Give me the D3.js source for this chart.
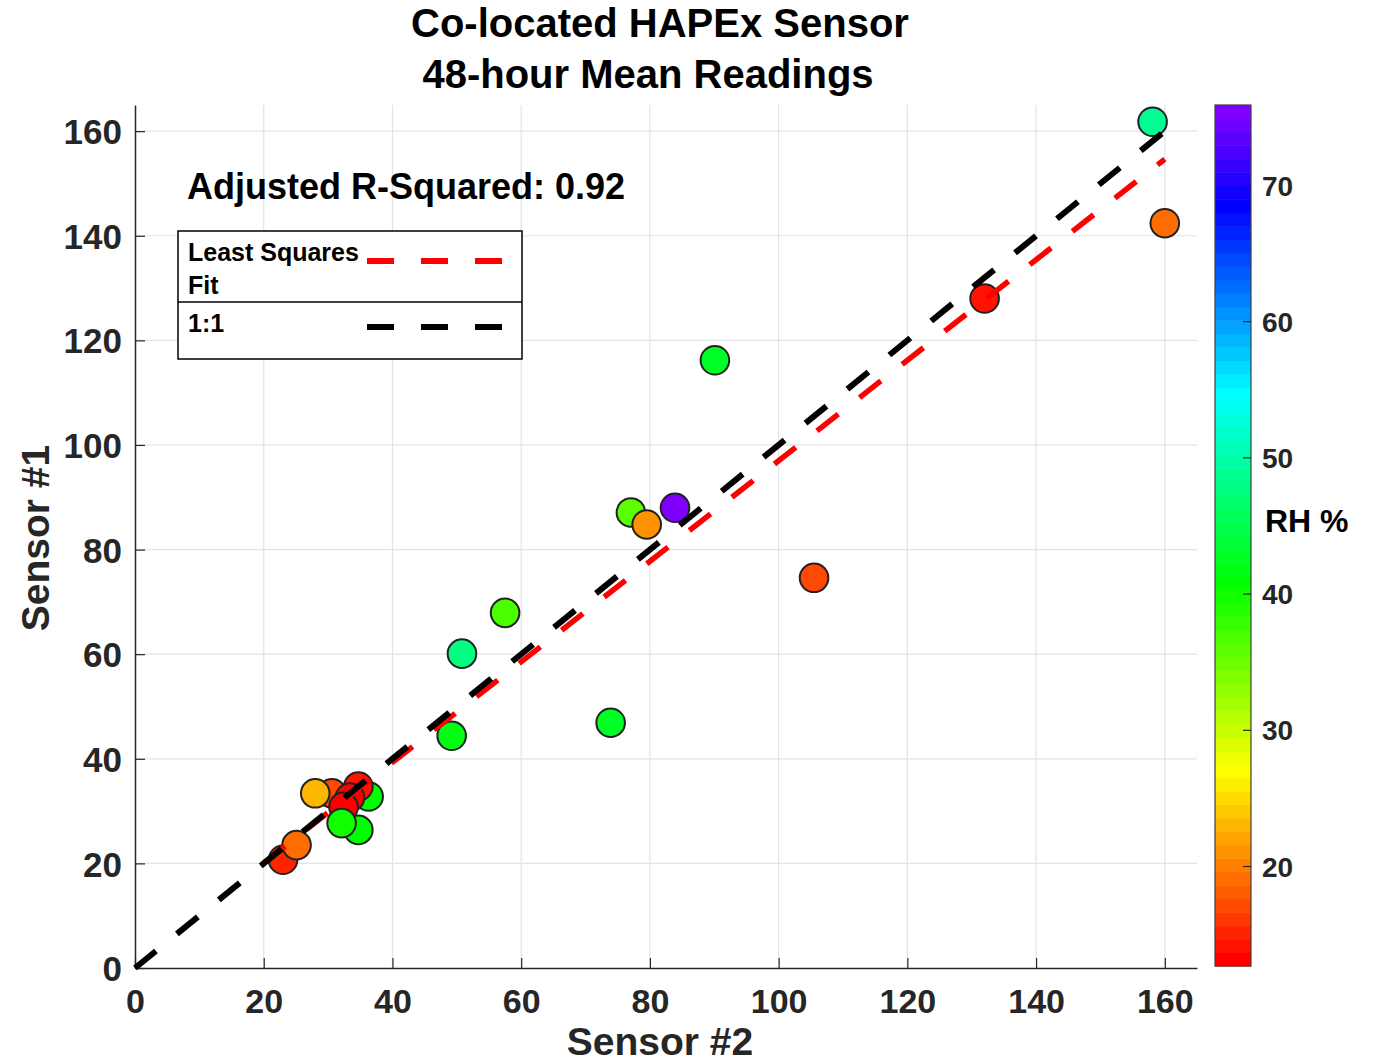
<!DOCTYPE html>
<html><head><meta charset="utf-8">
<script src="https://cdn.jsdelivr.net/npm/d3@7"></script>
<style>
body{margin:0;background:#fff}
text{font-family:"Liberation Sans",Arial,Helvetica,sans-serif;font-weight:bold}
</style>
</head><body>
<svg id="chart" width="1375" height="1064"></svg>
<script>
// ---- data ----
const sensor2 = [36.3, 30.6, 28.0, 34.7, 33.4, 32.4, 34.7, 32.1, 23.0, 25.1,
                 49.2, 50.8, 57.5, 73.9, 77.05, 79.5, 83.9, 90.1, 105.5, 132.0, 158.1, 160.0];
const sensor1 = [32.8, 33.4, 33.4, 34.7, 32.6, 30.8, 26.4, 27.7, 20.7, 23.5,
                 44.4, 60.1, 67.9, 46.9, 87.1, 84.8, 88.0, 116.2, 74.6, 128.0, 161.8, 142.4];
const rh      = [40.5, 17.0, 23.5, 14.0, 13.5, 12.66, 41.0, 40.0, 15.0, 19.5,
                 42.0, 48.0, 37.0, 43.0, 36.0, 21.0, 75.87, 43.0, 17.5, 14.5, 48.5, 19.0];
const xTicks = [0, 20, 40, 60, 80, 100, 120, 140, 160];
const yTicks = [0, 20, 40, 60, 80, 100, 120, 140, 160];
const cbTicks = [20, 30, 40, 50, 60, 70];
const fitX = [20, 160];
const fitSlope = 0.961;
const fitIntercept = 0.88;
const oneX = [0, 160];
const titleLines = ["Co-located HAPEx Sensor", "48-hour Mean Readings"];
const rsqText = "Adjusted R-Squared: 0.92";
const legendLabels = [["Least Squares", "Fit"], ["1:1"]];

// ---- layout ----
const svg = d3.select("#chart");
const L = 135, R = 1197, T = 105, B = 968;
const x = d3.scaleLinear().domain([0, 165]).range([L, R]);
const y = d3.scaleLinear().domain([0, 165]).range([B, T]);
const axisCol = "#262626";
const FF = '"Liberation Sans",Arial,sans-serif';

// colormap: 64 discrete hsv-like colors, red -> violet
const nCol = 64;
const cmap = d3.range(nCol).map(i => d3.hsl(270 * i / (nCol - 1), 1, 0.5).formatHex());
const rhExt = d3.extent(rh);
const cScale = d3.scaleQuantize().domain(rhExt).range(cmap);

// grid
const g = svg.append("g");
g.selectAll(".gx").data(xTicks.filter(d => d > 0)).enter().append("line")
  .attr("x1", d => x(d)).attr("x2", d => x(d)).attr("y1", T).attr("y2", B)
  .attr("stroke", "#e3e3e3").attr("stroke-width", 1.2);
g.selectAll(".gy").data(yTicks.filter(d => d > 0)).enter().append("line")
  .attr("y1", d => y(d)).attr("y2", d => y(d)).attr("x1", L).attr("x2", R)
  .attr("stroke", "#e3e3e3").attr("stroke-width", 1.2);

// axes
const xAxis = d3.axisBottom(x).tickValues(xTicks).tickSizeInner(-10).tickSizeOuter(0).tickPadding(21);
const yAxis = d3.axisLeft(y).tickValues(yTicks).tickSizeInner(-10).tickSizeOuter(0).tickPadding(13);
const gx = svg.append("g").attr("transform", `translate(0,${B})`).call(xAxis);
const gy = svg.append("g").attr("transform", `translate(${L},0)`).call(yAxis);
[gx, gy].forEach(a => {
  a.select(".domain").attr("stroke", axisCol).attr("stroke-width", 1.5);
  a.selectAll(".tick line").attr("stroke", axisCol).attr("stroke-width", 1.2);
  a.selectAll(".tick text").attr("fill", axisCol)
    .style("font-family", FF).style("font-weight", "bold");
});
gx.selectAll(".tick text").style("font-size", "34px").attr("dy", "0.71em");
gy.selectAll(".tick text").style("font-size", "35px").attr("dy", "0.36em");

// points
const idx = d3.range(sensor2.length);
svg.append("g").selectAll("circle").data(idx).enter().append("circle")
  .attr("cx", i => x(sensor2[i])).attr("cy", i => y(sensor1[i])).attr("r", 14.3)
  .attr("fill", i => cScale(rh[i])).attr("stroke", "#222").attr("stroke-width", 2);

// fit line (red) and 1:1 line (black)
svg.append("line")
  .attr("x1", x(fitX[0])).attr("y1", y(fitSlope * fitX[0] + fitIntercept))
  .attr("x2", x(fitX[1])).attr("y2", y(fitSlope * fitX[1] + fitIntercept))
  .attr("stroke", "#ff0000").attr("stroke-width", 5.5).attr("stroke-dasharray", "27,27");
svg.append("line")
  .attr("x1", x(oneX[0])).attr("y1", y(oneX[0]))
  .attr("x2", x(oneX[1])).attr("y2", y(oneX[1]))
  .attr("stroke", "#000").attr("stroke-width", 6).attr("stroke-dasharray", "27,27");

// R-squared text
svg.append("text").attr("x", 187).attr("y", 199).attr("font-size", 36).attr("fill", "#000").text(rsqText);

// legend
const lg = svg.append("g");
lg.append("rect").attr("x", 178).attr("y", 231).attr("width", 344).attr("height", 128)
  .attr("fill", "#fff").attr("stroke", "#000").attr("stroke-width", 1.5);
lg.append("line").attr("x1", 178).attr("x2", 522).attr("y1", 302).attr("y2", 302)
  .attr("stroke", "#000").attr("stroke-width", 1.5);
lg.append("text").attr("x", 188).attr("y", 261).attr("font-size", 25).attr("fill", "#000").text(legendLabels[0][0]);
lg.append("text").attr("x", 188).attr("y", 294).attr("font-size", 25).attr("fill", "#000").text(legendLabels[0][1]);
lg.append("text").attr("x", 188).attr("y", 332).attr("font-size", 25).attr("fill", "#000").text(legendLabels[1][0]);
lg.append("line").attr("x1", 367).attr("x2", 503).attr("y1", 261).attr("y2", 261)
  .attr("stroke", "#ff0000").attr("stroke-width", 6).attr("stroke-dasharray", "27,27");
lg.append("line").attr("x1", 367).attr("x2", 503).attr("y1", 327).attr("y2", 327)
  .attr("stroke", "#000").attr("stroke-width", 6).attr("stroke-dasharray", "27,27");

// title
svg.append("text").attr("x", 660).attr("y", 37).attr("text-anchor", "middle").attr("font-size", 40)
  .attr("fill", "#000").text(titleLines[0]);
svg.append("text").attr("x", 648).attr("y", 88).attr("text-anchor", "middle").attr("font-size", 40)
  .attr("fill", "#000").text(titleLines[1]);

// axis labels
svg.append("text").attr("x", 660).attr("y", 1055).attr("text-anchor", "middle").attr("font-size", 39)
  .attr("fill", axisCol).text("Sensor #2");
svg.append("text").attr("transform", "translate(49,538) rotate(-90)").attr("text-anchor", "middle")
  .attr("font-size", 39).attr("fill", axisCol).text("Sensor #1");

// colorbar
const cbL = 1215, cbW = 36, cbT = 105, cbB = 966;
const cb = d3.scaleLinear().domain(rhExt).range([cbB, cbT]);
const step = (rhExt[1] - rhExt[0]) / nCol;
svg.append("g").selectAll("rect").data(cmap).enter().append("rect")
  .attr("x", cbL).attr("width", cbW)
  .attr("y", (c, i) => cb(rhExt[0] + (i + 1) * step))
  .attr("height", (c, i) => cb(rhExt[0] + i * step) - cb(rhExt[0] + (i + 1) * step) + 0.5)
  .attr("fill", c => c);
svg.append("rect").attr("x", cbL).attr("y", cbT).attr("width", cbW).attr("height", cbB - cbT)
  .attr("fill", "none").attr("stroke", "#404040").attr("stroke-width", 1.2);
const cbAxis = d3.axisRight(cb).tickValues(cbTicks).tickSizeInner(-8).tickSizeOuter(0).tickPadding(11);
const gcb = svg.append("g").attr("transform", `translate(${cbL + cbW},0)`).call(cbAxis);
gcb.select(".domain").remove();
gcb.selectAll(".tick line").attr("stroke", axisCol).attr("stroke-width", 1.2);
gcb.selectAll(".tick text").attr("fill", axisCol).style("font-size", "28px")
  .style("font-family", FF).style("font-weight", "bold").attr("dy", "0.36em");
svg.append("text").attr("x", 1265).attr("y", 532).attr("font-size", 32).attr("fill", "#000").text("RH %");
</script>
</body></html>
